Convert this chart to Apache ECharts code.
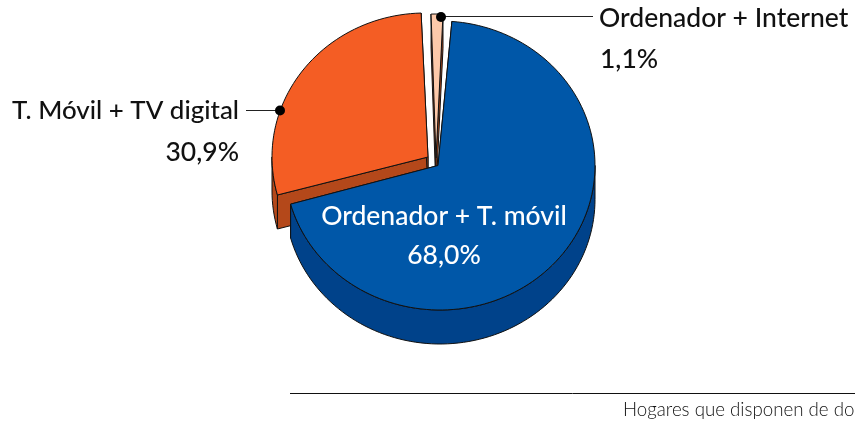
<!DOCTYPE html>
<html>
<head>
<meta charset="utf-8">
<style>html,body{margin:0;padding:0;background:#fff}#main{width:855px;height:421px}</style>
<script src="https://cdn.jsdelivr.net/npm/echarts@6/dist/echarts.min.js"></script>
</head>
<body>
<div id="main"></div>
<script>
// drawn back to front: the blue slice has to sit on top of the orange wall
var names = ['T. Móvil + TV digital', 'Ordenador + Internet', 'Ordenador + T. móvil'];
var values = [30.9, 1.1, 68.0];
var footnote = 'Hogares que disponen de do';

// exploded pie layout, one entry per slice. The tip of each slice sits a bit
// off the centre of its rim ellipse, as it does in the original drawing
var layout = [
    { cx: 428, cy: 157, rimX: 425, rx: 153, ry: 144, start: 254.7, trim: 7.4, top: '#f45d24', side: '#b4481a' },
    { cx: 436, cy: 158, rimX: 436, rx: 157, ry: 144, start: -1.8, trim: -0.4, top: '#fdc9aa', side: '#b4481a' },
    { cx: 438, cy: 165.5, rimX: 440, rx: 155, ry: 144.5, start: 4.4, trim: -5.3, top: '#0057a8', side: '#00428a' }
];
var depth = 34;

function rim(s, deg) {
    var a = deg * Math.PI / 180;
    return [s.rimX + s.rx * Math.sin(a), s.cy - s.ry * Math.cos(a)];
}

function arc(s, from, to) {
    var pts = [];
    var n = Math.max(2, Math.ceil((to - from) / 2));
    for (var i = 0; i <= n; i++) pts.push(rim(s, from + (to - from) * i / n));
    return pts;
}

function down(p) {
    return [p[0], p[1] + depth];
}

function renderSlice(params, api) {
    var s = layout[params.dataIndex];
    var end = s.start + api.value(0) * 3.6 - s.trim;
    var apex = [s.cx, s.cy];
    var kids = [];

    function poly(points, fill) {
        kids.push({ type: 'polygon', shape: { points: points }, style: { fill: fill, stroke: '#111', lineWidth: 1 } });
    }

    // cut faces first, the top face hides whatever should not show
    [s.start, end].forEach(function (deg) {
        var p = rim(s, deg);
        poly([apex, p, down(p), down(apex)], s.side);
    });

    // outer wall, only the front half of the rim is visible
    var from = Math.max(s.start, 90), to = Math.min(end, 270);
    if (to > from) {
        var outer = arc(s, from, to);
        poly(outer.concat(outer.slice().reverse().map(down)), s.side);
    }

    poly([apex].concat(arc(s, s.start, end)), s.top);
    return { type: 'group', children: kids };
}

var chartDom = document.getElementById('main');
var myChart = echarts.init(chartDom);

function pct(v) {
    return v.toFixed(1).replace('.', ',') + '%';
}

var font = 'Lato, "Noto Sans", sans-serif';

function label(text, x, y, align, color, size) {
    return {
        type: 'text', x: x, y: y, z: 10,
        style: { text: text, fill: color || '#111', font: '500 ' + (size || 26.5) + 'px ' + font, textAlign: align, textVerticalAlign: 'middle' }
    };
}

function leader(points, dot) {
    return [
        { type: 'polyline', z: 10, shape: { points: points }, style: { stroke: '#222', lineWidth: 1, fill: null } },
        { type: 'circle', z: 10, shape: { cx: dot[0], cy: dot[1], r: 5 }, style: { fill: '#000' } }
    ];
}

var option = {
    backgroundColor: '#fff',
    animation: false,
    series: [{
        type: 'custom',
        coordinateSystem: 'none',
        silent: true,
        renderItem: renderSlice,
        data: values.map(function (v) { return [v]; })
    }],
    graphic: [
        label(names[0], 239, 111, 'right', '#111', 25.9),
        label(pct(values[0]), 239, 152, 'right'),
        label(names[1], 599, 18, 'left'),
        label(pct(values[1]), 600, 59, 'left'),
        label(names[2], 444, 216, 'center', '#fff'),
        label(pct(values[2]), 444, 255, 'center', '#fff'),
        { type: 'line', shape: { x1: 290, y1: 393.5, x2: 855, y2: 393.5 }, style: { stroke: '#111', lineWidth: 1 } },
        { type: 'text', x: 623, y: 410, style: { text: footnote, fill: '#111', font: '300 18.7px ' + font, textAlign: 'left', textVerticalAlign: 'middle' } }
    ].concat(leader([[246, 110.5], [280, 110.5]], [280, 110.5]), leader([[441, 16.5], [593, 16.5]], [441, 17]))
};

option && myChart.setOption(option);
</script>
</body>
</html>
